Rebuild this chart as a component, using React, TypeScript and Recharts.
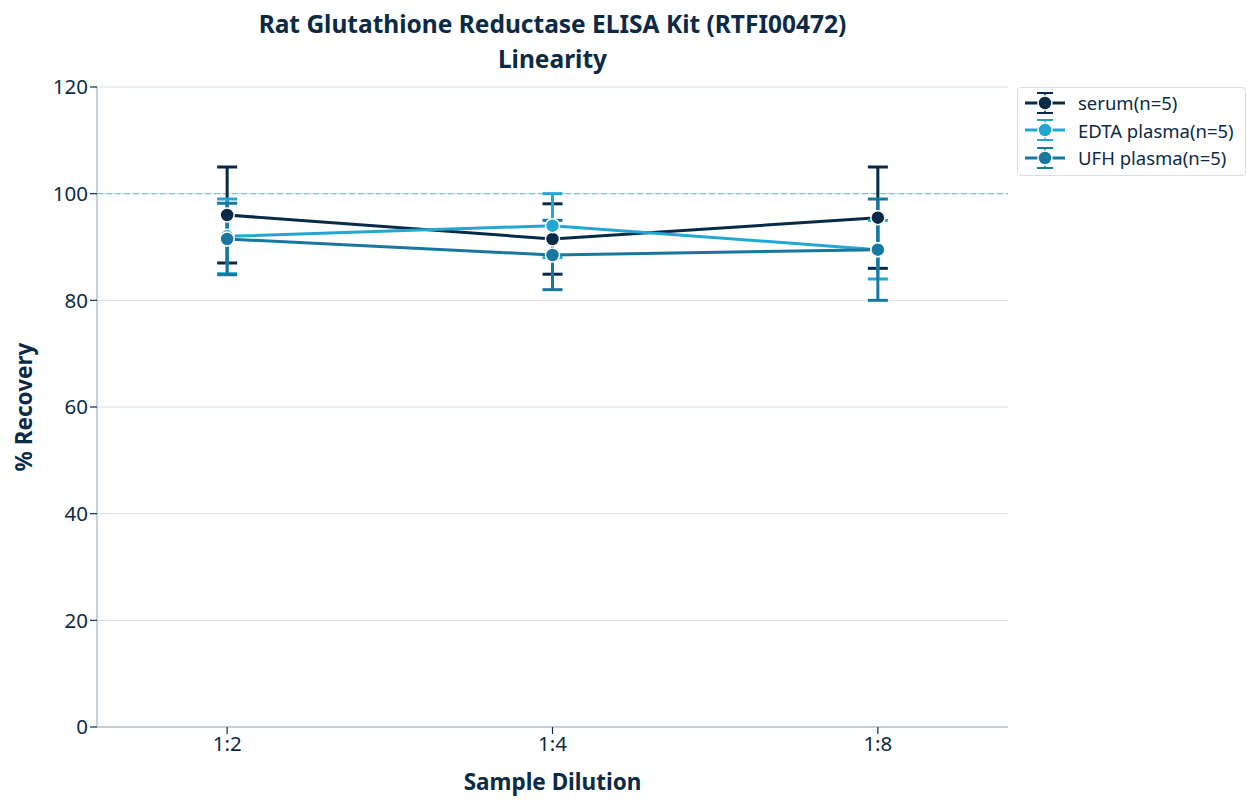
import React from "react";
import {
  CartesianGrid,
  ErrorBar,
  Line,
  LineChart,
  ReferenceLine,
  XAxis,
  YAxis,
} from "recharts";

const dilutions = ["1:2", "1:4", "1:8"];
const serumMean = [96, 91.5, 95.5];
const serumSd = [9, 6.6, 9.5];
const edtaMean = [92, 94, 89.5];
const edtaSd = [7, 6, 5.5];
const ufhMean = [91.5, 88.5, 89.5];
const ufhSd = [6.7, 6.5, 9.5];
const yTicks = [0, 20, 40, 60, 80, 100, 120];
const titleLines = ["Rat Glutathione Reductase ELISA Kit (RTFI00472)", "Linearity"];

const INK = "#0b2a45";
const FONT = "'Noto Sans', 'DejaVu Sans', sans-serif";

const series = [
  { key: "serum", name: "serum(n=5)", color: "#062a47" },
  { key: "edta", name: "EDTA plasma(n=5)", color: "#22a7d3" },
  { key: "ufh", name: "UFH plasma(n=5)", color: "#1677a0" },
];

const rows = dilutions.map((label, i) => ({
  x: i,
  label,
  serum: serumMean[i],
  serumErr: serumSd[i],
  edta: edtaMean[i],
  edtaErr: edtaSd[i],
  ufh: ufhMean[i],
  ufhErr: ufhSd[i],
}));

// little errorbar glyph for the legend: line, circle marker and two caps
function LegendIcon({ color }: { color: string }) {
  return (
    <svg width={44} height={26} style={{ display: "block" }}>
      <line x1={2} y1={13} x2={42} y2={13} stroke={color} strokeWidth={3} />
      <line x1={22} y1={3} x2={22} y2={23} stroke={color} strokeWidth={1.5} />
      <line x1={14} y1={3} x2={30} y2={3} stroke={color} strokeWidth={2} />
      <line x1={14} y1={23} x2={30} y2={23} stroke={color} strokeWidth={2} />
      <circle cx={22} cy={13} r={7} fill={color} stroke="#fff" strokeWidth={1.5} />
    </svg>
  );
}

export default function App() {
  const textStyle = { fontFamily: FONT, fill: INK, fontSize: 20.5 };
  return (
    <div style={{ position: "absolute", left: 0, top: 0, width: 1259, height: 810, background: "#fff", fontFamily: FONT, color: INK }}>
      {titleLines.map((line, i) => (
        <div
          key={line}
          style={{
            position: "absolute",
            left: 0,
            width: 1105,
            top: 7 + i * 35,
            height: 34,
            textAlign: "center",
            fontWeight: 700,
            fontSize: 24.5,
            lineHeight: "34px",
          }}
        >
          {line}
        </div>
      ))}
      <LineChart
        width={1259}
        height={810}
        data={rows}
        margin={{ top: 87, right: 251, bottom: 53, left: 37 }}
      >
        <CartesianGrid vertical={false} stroke="#d3e0e8" strokeWidth={1} />
        <XAxis
          dataKey="x"
          type="number"
          domain={[-0.4, 2.4]}
          ticks={[0, 1, 2]}
          allowDataOverflow
          height={30}
          tickFormatter={(v: number) => dilutions[v] ?? ""}
          axisLine={{ stroke: "#b4c3cf", strokeWidth: 1.5 }}
          tickLine={{ stroke: INK, strokeWidth: 1.2 }}
          tickSize={7}
          tick={textStyle}
        />
        <YAxis
          type="number"
          domain={[0, 120]}
          ticks={yTicks}
          width={60}
          axisLine={{ stroke: "#b4c3cf", strokeWidth: 1.5 }}
          tickLine={{ stroke: INK, strokeWidth: 1.2 }}
          tickSize={7}
          tick={textStyle}
        />
        <ReferenceLine y={100} stroke="#86c1d9" strokeDasharray="6 3" strokeWidth={1.3} />
        {series.map((s) => (
          <Line
            key={s.key}
            dataKey={s.key}
            name={s.name}
            stroke={s.color}
            strokeWidth={3}
            isAnimationActive={false}
            dot={{ r: 7, fill: s.color, stroke: "#fff", strokeWidth: 1.5, fillOpacity: 1 }}
            activeDot={false}
          >
            <ErrorBar
              dataKey={`${s.key}Err`}
              direction="y"
              width={10}
              stroke={s.color}
              strokeWidth={3}
              isAnimationActive={false}
            />
          </Line>
        ))}
      </LineChart>
      <div
        style={{
          position: "absolute",
          left: 6,
          top: 407,
          transform: "translate(0, -50%) rotate(-90deg)",
          transformOrigin: "center",
          width: 34,
          display: "flex",
          justifyContent: "center",
        }}
      >
        <span style={{ whiteSpace: "nowrap", fontWeight: 700, fontSize: 22.5 }}>% Recovery</span>
      </div>
      <div style={{ position: "absolute", left: 97, width: 911, top: 766, textAlign: "center", fontWeight: 700, fontSize: 22.5 }}>
        Sample Dilution
      </div>
      <div
        style={{
          position: "absolute",
          left: 1017,
          top: 87,
          width: 229,
          height: 89,
          border: "1.5px solid #d6dee4",
          borderRadius: 4,
          background: "#fff",
          boxSizing: "border-box",
          padding: "1px 0 0 5px",
        }}
      >
        {series.map((s) => (
          <div key={s.key} style={{ display: "flex", alignItems: "center", height: 27.5 }}>
            <LegendIcon color={s.color} />
            <span style={{ marginLeft: 11, fontSize: 18.5 }}>{s.name}</span>
          </div>
        ))}
      </div>
    </div>
  );
}
